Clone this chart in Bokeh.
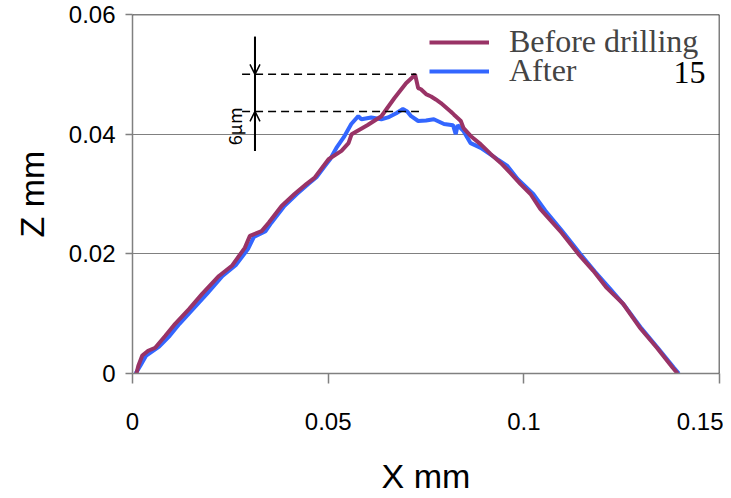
import math
from bokeh.plotting import figure
from bokeh.models import (Label, Legend, LegendItem, Arrow, OpenHead, Span,
                          FixedTicker, Range1d, Title)
from bokeh.embed import file_html
from bokeh.resources import INLINE

# ---------------- data ----------------
x_before = [0.0010, 0.0015, 0.0025, 0.0040, 0.0058, 0.0084, 0.0109, 0.0145, 0.0178, 0.0221,
            0.0254, 0.0287, 0.0300, 0.0330, 0.0348, 0.0381, 0.0414, 0.0445, 0.0465, 0.0488,
            0.0501, 0.0534, 0.0552, 0.0560, 0.0600, 0.0636, 0.0669, 0.0699, 0.0712, 0.0722,
            0.0730, 0.0737, 0.0750, 0.0763, 0.0775, 0.0788, 0.0813, 0.0821, 0.0839, 0.0846,
            0.0864, 0.0890, 0.0915, 0.0941, 0.0966, 0.0991, 0.1017, 0.1042, 0.1093, 0.1139,
            0.1177, 0.1212, 0.1253, 0.1296, 0.1340, 0.1380, 0.1393]
z_before = [0.0000, 0.0013, 0.0030, 0.0038, 0.0043, 0.0063, 0.0083, 0.0108, 0.0133, 0.0163,
            0.0180, 0.0210, 0.0230, 0.0238, 0.0252, 0.0280, 0.0300, 0.0317, 0.0327, 0.0347,
            0.0358, 0.0372, 0.0385, 0.0400, 0.0415, 0.0430, 0.0460, 0.0485, 0.0493, 0.0500,
            0.0477, 0.0475, 0.0467, 0.0463, 0.0458, 0.0452, 0.0438, 0.0433, 0.0422, 0.0410,
            0.0397, 0.0383, 0.0367, 0.0352, 0.0335, 0.0317, 0.0300, 0.0275, 0.0238, 0.0200,
            0.0172, 0.0143, 0.0117, 0.0077, 0.0043, 0.0010, 0.0000]

x_after = [0.0008, 0.0020, 0.0035, 0.0068, 0.0095, 0.0120, 0.0155, 0.0190, 0.0230, 0.0265,
           0.0295, 0.0310, 0.0340, 0.0355, 0.0388, 0.0420, 0.0450, 0.0470, 0.0492, 0.0505,
           0.0521, 0.0540, 0.0559, 0.0577, 0.0585, 0.0610, 0.0636, 0.0653, 0.0674, 0.0691,
           0.0702, 0.0712, 0.0730, 0.0750, 0.0770, 0.0796, 0.0819, 0.0826, 0.0831, 0.0846,
           0.0864, 0.0890, 0.0933, 0.0958, 0.0984, 0.1024, 0.1055, 0.1098, 0.1144, 0.1182,
           0.1220, 0.1258, 0.1301, 0.1342, 0.1383, 0.1396]
z_after = [0.0000, 0.0013, 0.0030, 0.0045, 0.0063, 0.0083, 0.0108, 0.0133, 0.0163, 0.0182,
           0.0208, 0.0228, 0.0238, 0.0252, 0.0280, 0.0300, 0.0317, 0.0328, 0.0347, 0.0358,
           0.0377, 0.0395, 0.0417, 0.0430, 0.0425, 0.0428, 0.0425, 0.0428, 0.0435, 0.0442,
           0.0438, 0.0430, 0.0422, 0.0423, 0.0425, 0.0417, 0.0415, 0.0400, 0.0415, 0.0405,
           0.0385, 0.0377, 0.0358, 0.0347, 0.0325, 0.0300, 0.0272, 0.0238, 0.0200, 0.0170,
           0.0142, 0.0113, 0.0075, 0.0043, 0.0010, 0.0000]

x_ticks = [0, 0.05, 0.1, 0.15]
x_tick_labels = ["0", "0.05", "0.1", "0.15"]
y_ticks = [0, 0.02, 0.04, 0.06]
y_tick_labels = ["0", "0.02", "0.04", "0.06"]

peak_before = 0.050   # upper dashed level
peak_after = 0.0438   # lower dashed level

# ---------------- styling ----------------
RED = "#993366"
BLUE = "#3366FF"
GREY = "#808080"
SANS = "Liberation Sans"
SERIF = "Liberation Serif"

p = figure(width=723, height=497,
           x_range=Range1d(0, 0.15), y_range=Range1d(0, 0.06),
           output_backend="svg", toolbar_location=None,
           min_border_left=130, min_border_right=4,
           min_border_top=14, min_border_bottom=124)
p.outline_line_color = None
p.background_fill_color = "white"

for ax, ticks, labels in ((p.xaxis, x_ticks, x_tick_labels), (p.yaxis, y_ticks, y_tick_labels)):
    ax.ticker = FixedTicker(ticks=ticks)
    ax.major_label_overrides = {t: l for t, l in zip(ticks, labels)}
    ax.axis_line_color = GREY
    ax.axis_line_width = 1.5
    ax.major_tick_line_color = GREY
    ax.major_tick_line_width = 1.5
    ax.major_tick_in = 0
    ax.minor_tick_line_color = None
    ax.major_label_text_font = SANS
    ax.major_label_text_font_size = "24px"
    ax.major_label_text_color = "black"
p.xaxis.major_tick_out = 10
p.xaxis.major_label_standoff = 29
p.yaxis.major_tick_out = 7
p.yaxis.major_label_standoff = 10

p.xaxis.axis_label = "X mm"
p.xaxis.axis_label_text_font = SANS
p.xaxis.axis_label_text_font_size = "34px"
p.xaxis.axis_label_text_font_style = "normal"
p.xaxis.axis_label_text_color = "black"
p.xaxis.axis_label_standoff = 24

p.add_layout(Title(text="Z mm", align="center", vertical_align="top", offset=-29, standoff=25,
                   text_font=SANS, text_font_size="34px", text_font_style="normal",
                   text_color="black"), "left")

p.xgrid.visible = False
p.ygrid.ticker = FixedTicker(ticks=[0.02, 0.04])
p.ygrid.grid_line_color = GREY
p.ygrid.grid_line_width = 1.2

p.add_layout(Span(location=0.06, dimension="width", line_color="black", line_width=1.5))
p.add_layout(Span(location=0.15, dimension="height", line_color="black", line_width=1.5))

r_after = p.line(x_after, z_after, line_color=BLUE, line_width=4)
r_before = p.line(x_before, z_before, line_color=RED, line_width=4)

# dashed reference levels
p.segment(x0=[0.0280, 0.0280], y0=[peak_before, peak_after],
          x1=[0.0725, 0.0732], y1=[peak_before, peak_after],
          line_color="black", line_width=1.5, line_dash="8 5")

# arrows indicating the 6 um difference
x_arrow = 0.0313
p.add_layout(Arrow(start=None, end=None, x_start=x_arrow, y_start=0.0563,
                   x_end=x_arrow, y_end=0.0372, line_width=2, line_color="black"))
p.add_layout(Arrow(end=OpenHead(size=10, line_width=1.5, line_color="black"),
                   x_start=x_arrow, y_start=0.0563, x_end=x_arrow, y_end=peak_before,
                   line_width=2, line_color="black"))
p.add_layout(Arrow(end=OpenHead(size=10, line_width=1.5, line_color="black"),
                   x_start=x_arrow, y_start=0.0372, x_end=x_arrow, y_end=peak_after,
                   line_width=2, line_color="black"))
p.add_layout(Label(x=0.0259, y=0.0413, text="6μm", angle=math.pi / 2,
                   text_align="center", text_baseline="middle",
                   text_font="Noto Sans CJK JP", text_font_size="18px", text_color="black"))

# legend: one box per row so that the rows sit as close as in the reference
legend_style = dict(orientation="vertical", label_text_font=SERIF,
                    label_text_font_size="32px", glyph_width=60, glyph_height=20,
                    label_standoff=20, spacing=0, padding=0, margin=0,
                    border_line_color=None, background_fill_alpha=0)
p.add_layout(Legend(items=[LegendItem(label="Before drilling", renderers=[r_before])],
                    location=(297, 313), **legend_style))
p.add_layout(Legend(items=[LegendItem(label="After", renderers=[r_after])],
                    location=(297, 284), **legend_style))
p.add_layout(Label(x=0.15, y=0.06, x_offset=-14, y_offset=-58, text="15",
                   text_align="right", text_baseline="middle",
                   text_font=SERIF, text_font_size="32px", text_color="black"))

open("out.html", "w").write(file_html(p, INLINE))
